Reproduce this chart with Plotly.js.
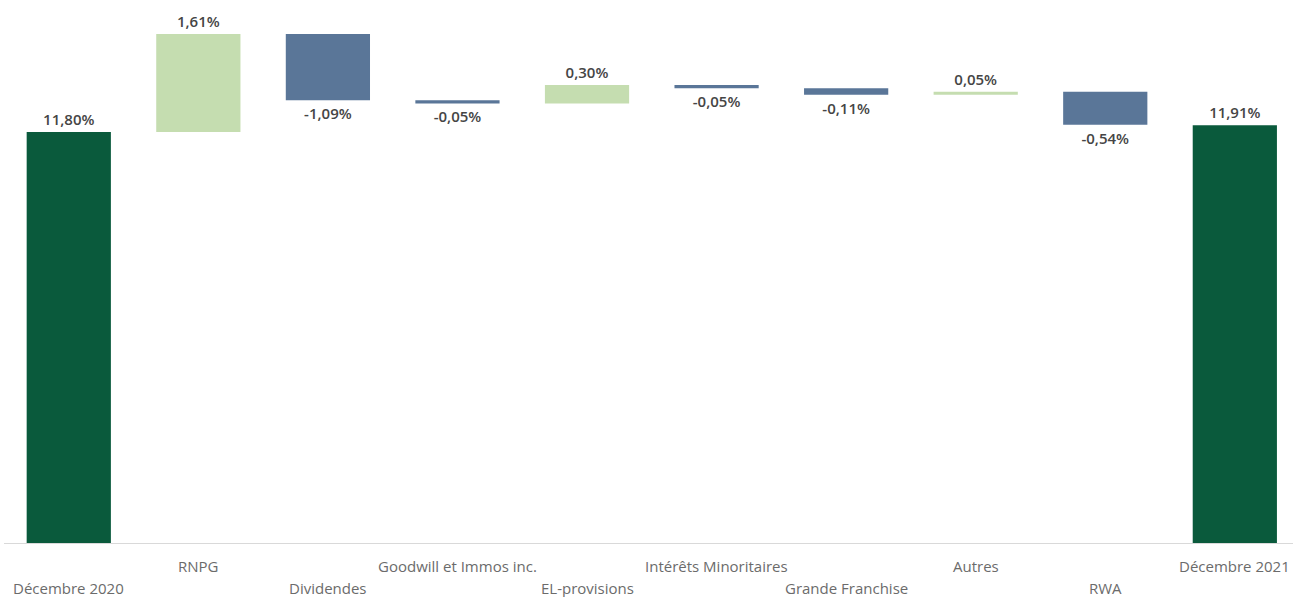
<!DOCTYPE html>
<html>
<head>
<meta charset="utf-8">
<script src="https://cdn.plot.ly/plotly-3.0.1.min.js"></script>
<style>html,body{margin:0;padding:0;background:#fff;}#chart{width:1293px;height:597px;}</style>
</head>
<body>
<div id="chart"></div>
<script>
const categories = ["Décembre 2020","RNPG","Dividendes","Goodwill et Immos inc.","EL-provisions","Intérêts Minoritaires","Grande Franchise","Autres","RWA","Décembre 2021"];
const values = [11.80, 1.61, -1.09, -0.05, 0.30, -0.05, -0.11, 0.05, -0.54, 11.91];
const measures = ["absolute","relative","relative","relative","relative","relative","relative","relative","relative","absolute"];
const labelRow = [1,0,1,0,1,0,1,0,1,0]; // 0 = upper row, 1 = lower row

const fmt = v => v.toFixed(2).replace('.', ',') + '%';
const texts = values.map(fmt);

const valueFont = {family: 'Open Sans, sans-serif', size: 15, color: '#454545', weight: 600};

const trace = {
  type: 'waterfall',
  x: categories,
  y: values,
  measure: measures,
  text: texts,
  textposition: 'outside',
  constraintext: 'none',
  cliponaxis: false,
  outsidetextfont: valueFont,
  textfont: valueFont,
  increasing: {marker: {color: '#c5ddb0'}},
  decreasing: {marker: {color: '#5a7698'}},
  totals: {marker: {color: '#0a5a3c'}},
  connector: {visible: false},
  width: 0.65,
  hoverinfo: 'none'
};

const annotations = categories.map((c, i) => ({
  x: c, xref: 'x', y: 0, yref: 'paper',
  text: c, showarrow: false,
  xanchor: 'center', yanchor: 'middle',
  yshift: labelRow[i] ? -45 : -23,
  font: {family: 'Open Sans, sans-serif', size: 15, color: '#6b6b6b'}
}));

const layout = {
  width: 1293, height: 597,
  margin: {l: 4, r: 0, t: 10, b: 54},
  paper_bgcolor: '#ffffff', plot_bgcolor: '#ffffff',
  showlegend: false,
  xaxis: {type: 'category', range: [-0.5, 9.449], showticklabels: false, ticks: '',
          showline: true, linecolor: '#d9d9d9', linewidth: 1, showgrid: false, zeroline: false, fixedrange: true},
  yaxis: {range: [5.048, 13.804], visible: false, showgrid: false, zeroline: false, fixedrange: true},
  annotations: annotations
};

Plotly.newPlot('chart', [trace], layout, {displayModeBar: false, staticPlot: true});
</script>
</body>
</html>
